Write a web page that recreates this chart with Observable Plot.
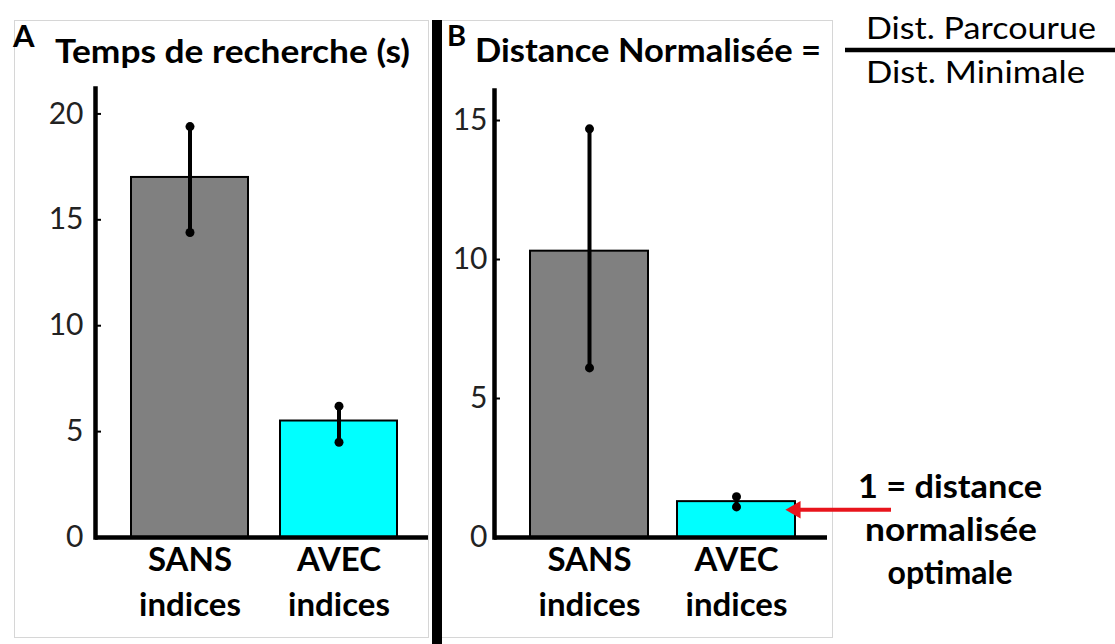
<!DOCTYPE html>
<html><head><meta charset="utf-8">
<script src="https://cdn.jsdelivr.net/npm/d3@7"></script>
<script src="https://cdn.jsdelivr.net/npm/@observablehq/plot@0.6"></script>
<style>
html,body{margin:0;padding:0;background:#fff;}
#stage{position:relative;width:1115px;height:644px;overflow:hidden;font-family:Lato,"Open Sans",sans-serif;}
.frame{position:absolute;border:1px solid #d6d6d6;box-sizing:border-box;}
.sep{position:absolute;background:#000;}
.plotbox{position:absolute;top:0;}
#overlay{position:absolute;left:0;top:0;pointer-events:none;}
</style></head>
<body><div id="stage">
<div class="frame" style="left:14px;top:20px;width:415px;height:618px"></div>
<div class="frame" style="left:441px;top:20px;width:392px;height:618px"></div>
<div class="sep" style="left:432px;top:20px;width:10px;height:624px"></div>
<div id="panelA" class="plotbox" style="left:0px"></div>
<div id="panelB" class="plotbox" style="left:441px"></div>
</div>
<script>
// ---- data ----
const categories = ["SANS indices", "AVEC indices"];
const barColors = ["#808080", "#00ffff"];
// Panel A: search time (s)
const timeMean = [17.0, 5.5];
const timeLow = [14.4, 4.5];
const timeHigh = [19.4, 6.2];
const timeTicks = [0, 5, 10, 15, 20];
// Panel B: normalised distance
const distMean = [10.3, 1.29];
const distLow = [6.1, 1.1];
const distHigh = [14.7, 1.47];
const distTicks = [0, 5, 10, 15];
// optimal normalised distance (annotation)
const optimalValue = [1];
const optimalCategory = [categories[1]];

const RED = "#e8141c";
const FONT = "Lato, 'Open Sans', sans-serif";

function rowsOf(mean, lo, hi) {
  return categories.map((c, i) => ({cat: c, mean: mean[i], lo: lo[i], hi: hi[i], color: barColors[i]}));
}

function panel({rows, yMax, ticks, width, marginLeft, marginRight, marginTop, xOpts, tickPad, extra = []}) {
  return Plot.plot({
    width, height: 644, marginLeft, marginRight, marginTop, marginBottom: 107,
    style: {background: "transparent", fontFamily: FONT, color: "#000", overflow: "visible"},
    x: {domain: categories, ...xOpts, label: null},
    y: {domain: [0, yMax], label: null},
    color: {type: "identity"},
    marks: [
      Plot.barY(rows, {x: "cat", y: "mean", fill: "color", stroke: "#000", strokeWidth: 2}),
      Plot.ruleX(rows, {x: "cat", y1: "lo", y2: "hi", stroke: "#000", strokeWidth: 4}),
      Plot.dot(rows, {x: "cat", y: "lo", r: 4.5, fill: "#000"}),
      Plot.dot(rows, {x: "cat", y: "hi", r: 4.5, fill: "#000"}),
      Plot.ruleY([0], {stroke: "#000", strokeWidth: 4.5}),
      Plot.frame({anchor: "left", stroke: "#000", strokeWidth: 4.5}),
      Plot.axisY({ticks, tickSize: -6, tickPadding: tickPad, fontSize: 30, fill: "#222", stroke: "#000", strokeWidth: 2, label: null, tickFormat: d => String(d)}),
      Plot.axisX({tickSize: 0, tickPadding: 2, fontSize: 33, fontWeight: "bold", lineHeight: 1.36, fill: "#000", label: null, tickFormat: d => d.replace(" ", "\n")}),
      ...extra
    ]
  });
}

const plotA = panel({
  rows: rowsOf(timeMean, timeLow, timeHigh), yMax: 21.2, ticks: timeTicks,
  width: 430, marginLeft: 95, marginRight: 2, marginTop: 88, tickPad: 18,
  xOpts: {paddingInner: 0.213, paddingOuter: 0.218, align: 0.54}
});
document.getElementById("panelA").appendChild(plotA);

const arrowRows = optimalValue.map((v, i) => ({cat: optimalCategory[i], y: v}));
const plotB = panel({
  rows: rowsOf(distMean, distLow, distHigh), yMax: 16.08, ticks: distTicks,
  width: 674, marginLeft: 53, marginRight: 288, marginTop: 90, tickPad: 13,
  xOpts: {paddingInner: 0.197, paddingOuter: 0.231, align: 0.53},
  extra: [
    Plot.tickY(arrowRows, {x: "cat", y: "y", stroke: RED, strokeWidth: 4, insetLeft: 120, insetRight: -96}),
    Plot.dot(arrowRows, {x: "cat", y: "y", symbol: "triangle", rotate: -90, r: 6.5, fill: RED, dx: 59})
  ]
});
document.getElementById("panelB").appendChild(plotB);

// ---- titles and annotations ----
const svg = d3.select("#stage").append("svg").attr("id", "overlay")
  .attr("width", 1115).attr("height", 644).style("font-family", FONT);
function label(txt, x, y, size, weight, anchor = "start", len = null) {
  const t = svg.append("text").attr("x", x).attr("y", y).attr("font-size", size)
    .attr("font-weight", weight).attr("text-anchor", anchor).attr("fill", "#000").text(txt);
  if (len) t.attr("textLength", len).attr("lengthAdjust", "spacingAndGlyphs");
  return t;
}
label("A", 13, 47, 31, "bold");
label("Temps de recherche (s)", 55, 63, 32, "bold", "start", 355);
label("B", 447, 46, 29, "bold");
label("Distance Normalisée =", 475, 62, 32, "bold", "start", 346);
label("Dist. Parcourue", 866, 39, 30, "normal", "start", 230);
label("Dist. Minimale", 866, 83, 30, "normal", "start", 219);
svg.append("line").attr("x1", 845).attr("x2", 1115).attr("y1", 50).attr("y2", 50)
  .attr("stroke", "#000").attr("stroke-width", 4.5);
label("1 = distance", 950, 498, 32, "bold", "middle", 184);
label("normalisée", 951, 541, 32, "bold", "middle", 172);
label("optimale", 950, 584, 32, "bold", "middle", 125);
</script>
</body></html>
